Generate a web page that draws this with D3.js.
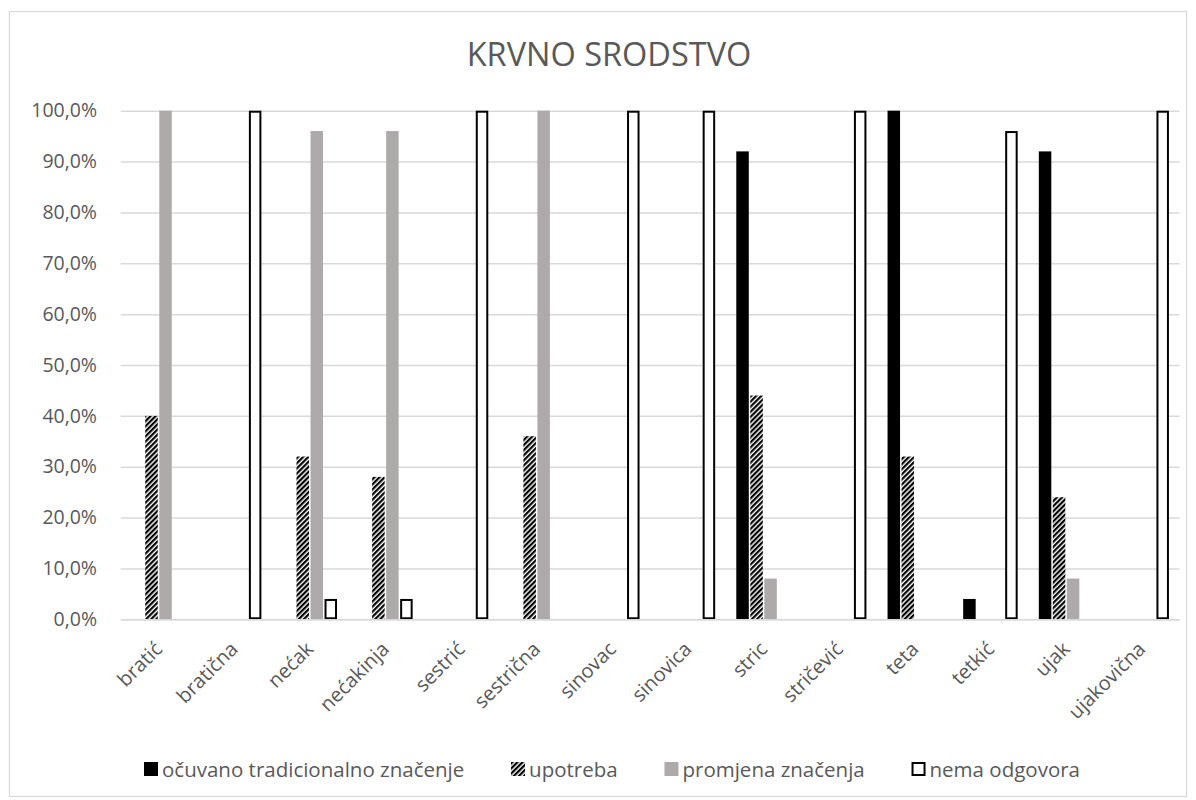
<!DOCTYPE html>
<html><head><meta charset="utf-8">
<script src="https://cdn.jsdelivr.net/npm/d3@7"></script>
<style>
html,body{margin:0;padding:0;background:#fff;}
svg{display:block;font-family:"Open Sans",sans-serif;}
</style></head>
<body><svg id="chart" width="1196" height="800"></svg>
<script>
const title = "KRVNO SRODSTVO";
const categories = ["bratić","bratična","nećak","nećakinja","sestrić","sestrična","sinovac","sinovica","stric","stričević","teta","tetkić","ujak","ujakovična"];
const seriesNames = ["očuvano tradicionalno značenje","upotreba","promjena značenja","nema odgovora"];
const ocuvano  = [0,0,0,0,0,0,0,0,92,0,100,4,92,0];
const upotreba = [40,0,32,28,0,36,0,0,44,0,32,0,24,0];
const promjena = [100,0,96,96,0,100,0,0,8,0,0,0,8,0];
const nema     = [0,100,4,4,100,0,100,100,0,100,0,96,0,100];
const yTicks = [0,10,20,30,40,50,60,70,80,90,100];

const seriesValues = [ocuvano, upotreba, promjena, nema];
const svg = d3.select("#chart");

const defs = svg.append("defs");
const pat = defs.append("pattern").attr("id","hatch").attr("patternUnits","userSpaceOnUse")
  .attr("width",3.6).attr("height",3.6).attr("patternTransform","rotate(45)");
pat.append("rect").attr("width",3.6).attr("height",3.6).attr("fill","#fff");
pat.append("rect").attr("width",2.2).attr("height",3.6).attr("fill","#000");

// frame
svg.append("rect").attr("x",9.5).attr("y",11.5).attr("width",1177).attr("height",785)
  .attr("fill","#fff").attr("stroke","#d9d9d9").attr("stroke-width",1.3);

svg.append("text").attr("x",609).attr("y",66).attr("text-anchor","middle")
  .attr("font-size",32.5).attr("fill","#595959").text(title);

const x0 = d3.scaleBand().domain(categories).range([120.7,1179.5]).padding(0);
const x1 = d3.scaleBand().domain(seriesNames).range([0,56]).padding(0);
const y = d3.scaleLinear().domain([0,100]).range([619.3,110.7]);

// grid
const grid = svg.append("g").attr("transform","translate(120.7,0)")
  .call(d3.axisLeft(y).tickValues(yTicks).tickSize(-(1179.5-120.7)).tickFormat(""));
grid.select(".domain").remove();
grid.selectAll(".tick line").attr("stroke","#d9d9d9").attr("stroke-width",1.5);

// y labels
const yax = svg.append("g").attr("transform","translate(97,0)")
  .call(d3.axisLeft(y).tickValues(yTicks).tickSize(0).tickPadding(0)
    .tickFormat(d => d.toFixed(1).replace(".", ",") + "%"));
yax.select(".domain").remove();
yax.selectAll("text").attr("font-size",19.5).attr("fill","#595959").attr("font-family","Open Sans");

const styles = [
  {fill:"#000", stroke:"none", sw:0},
  {fill:"url(#hatch)", stroke:"none", sw:0},
  {fill:"#aeaaaa", stroke:"none", sw:0},
  {fill:"#fff", stroke:"#000", sw:2}
];
const off = (x0.bandwidth()-56)/2;
seriesNames.forEach((s,si)=>{
  const st = styles[si];
  svg.append("g").selectAll("rect").data(categories.map((c,i)=>({c, v:seriesValues[si][i]})).filter(d=>d.v>0))
    .join("rect")
    .attr("x", d => x0(d.c)+off+x1(s)+0.75 + st.sw/2)
    .attr("width", 12.5 - st.sw)
    .attr("y", d => y(d.v) + st.sw/2)
    .attr("height", d => y(0)-y(d.v) - st.sw)
    .attr("fill", st.fill).attr("stroke", st.stroke).attr("stroke-width", st.sw);
});

// x labels
const xax = svg.append("g").attr("transform","translate(0,619.3)")
  .call(d3.axisBottom(x0).tickSize(0).tickPadding(0));
xax.select(".domain").attr("stroke","#d9d9d9").attr("stroke-width",1.5);
xax.selectAll("text").attr("font-size",20).attr("fill","#595959").attr("font-family","Open Sans")
  .attr("text-anchor","end").attr("dy",null).attr("y",0)
  .attr("transform","translate(5,31) rotate(-45)");

// legend: laid out between x=144 and x=1080 with equal gaps
const lg = svg.append("g");
const items = seriesNames.map((s,si)=>{
  const st = styles[si];
  const g = lg.append("g");
  g.append("rect").attr("x",st.sw/2).attr("y",st.sw/2).attr("width",14-st.sw).attr("height",14-st.sw)
    .attr("fill",st.fill).attr("stroke",st.stroke).attr("stroke-width",st.sw);
  const t = g.append("text").attr("x",18).attr("y",14.5).attr("font-size",20.5).attr("fill","#595959").text(s);
  return {g, w: 18 + t.node().getComputedTextLength()};
});
const total = d3.sum(items, d=>d.w);
const gap = (1080-144-total)/(items.length-1);
let cx = 144;
items.forEach(it=>{ it.g.attr("transform",`translate(${cx},762)`); cx += it.w + gap; });
</script></body></html>
